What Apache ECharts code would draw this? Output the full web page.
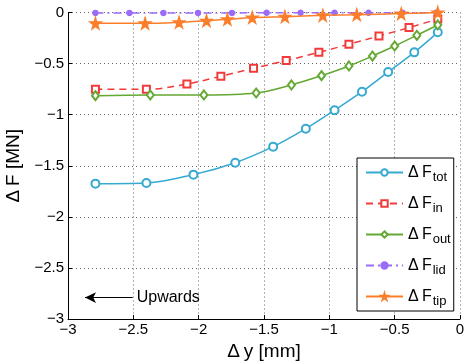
<!DOCTYPE html>
<html>
<head>
<meta charset="utf-8">
<script src="https://cdn.jsdelivr.net/npm/echarts@6/dist/echarts.min.js"></script>
<style>html,body{margin:0;padding:0;background:#fff}#c{width:465px;height:361px}</style>
</head>
<body>
<div id="c"></div>
<script>
// Data (x: Δy [mm], y: ΔF [MN])
var totX = [-2.79, -2.40, -2.04, -1.72, -1.43, -1.18, -0.96, -0.75, -0.55, -0.35, -0.17];
var totY = [-1.675, -1.668, -1.587, -1.47, -1.313, -1.137, -0.957, -0.775, -0.582, -0.39, -0.194];
var inX  = [-2.79, -2.40, -2.09, -1.83, -1.58, -1.33, -1.08, -0.85, -0.62, -0.39, -0.17];
var inY  = [-0.752, -0.752, -0.70, -0.624, -0.546, -0.471, -0.39, -0.311, -0.23, -0.148, -0.064];
var outX = [-2.79, -2.37, -1.96, -1.56, -1.29, -1.06, -0.85, -0.67, -0.50, -0.33, -0.17];
var outY = [-0.814, -0.807, -0.807, -0.788, -0.709, -0.618, -0.523, -0.426, -0.328, -0.223, -0.122];
var lidX = [-2.79, -2.53, -2.27, -2.005, -1.745, -1.48, -1.22, -0.96, -0.70, -0.44, -0.18];
var lidY = [-0.004, -0.004, -0.004, -0.004, -0.004, -0.003, -0.003, -0.003, -0.002, -0.002, -0.001];
var tipX = [-2.79, -2.41, -2.15, -1.94, -1.78, -1.59, -1.34, -1.05, -0.79, -0.45, -0.17];
var tipY = [-0.106, -0.106, -0.096, -0.08, -0.067, -0.05, -0.041, -0.028, -0.021, -0.011, 0.0];
var seriesNames = ['tot', 'in', 'out', 'lid', 'tip'];
var arrowFrom = [-2.505, -2.79];
var arrowTo = [-2.87, -2.79];
var arrowText = 'Upwards';
var xTicks = {min: -3, max: 0, step: 0.5};
var yTicks = {min: -3, max: 0, step: 0.5};

function pairs(xs, ys) { return xs.map(function (x, i) { return [x, ys[i]]; }); }
function fmt(v) { return String(v).replace('-', '\u2212'); }

var font = 'Liberation Sans, Arial, Helvetica, sans-serif';
var chart = echarts.init(document.getElementById('c'), null, {renderer: 'canvas'});

function mk(name, xs, ys, color, lineType, symbol, size, extra) {
  var s = {
    name: name, type: 'line', data: pairs(xs, ys), smooth: 0.35,
    symbol: symbol, symbolSize: size, showAllSymbol: true,
    lineStyle: {color: color, width: 1.5, type: lineType},
    itemStyle: {color: color, borderColor: color, borderWidth: 1.5},
    emphasis: {disabled: true}, z: 3
  };
  if (extra) Object.keys(extra).forEach(function (k) { s[k] = extra[k]; });
  return s;
}

var option = {
  animation: false,
  backgroundColor: '#fff',
  textStyle: {fontFamily: font},
  grid: {left: 68, right: 5, top: 12.5, bottom: 42, containLabel: false, outerBoundsMode: 'none'},
  xAxis: {
    type: 'value', min: xTicks.min, max: xTicks.max, interval: xTicks.step,
    name: '\u0394\u2009y [mm]', nameLocation: 'middle', nameGap: 22,
    nameTextStyle: {fontSize: 19, color: '#000', fontFamily: font},
    axisLine: {show: true, onZero: false, lineStyle: {color: '#000', width: 1}},
    axisTick: {show: true, inside: true, length: 4, lineStyle: {color: '#000'}},
    axisLabel: {fontSize: 15, color: '#000', margin: 3, formatter: fmt, fontFamily: font},
    splitLine: {show: true, lineStyle: {color: '#666', width: 1, type: [1, 3]}}
  },
  yAxis: {
    type: 'value', min: yTicks.min, max: yTicks.max, interval: yTicks.step,
    name: '\u0394\u2009F [MN]', nameLocation: 'middle', nameGap: 43, nameRotate: 90,
    nameTextStyle: {fontSize: 19, color: '#000', fontFamily: font},
    axisLine: {show: true, onZero: false, lineStyle: {color: '#000', width: 1}},
    axisTick: {show: true, inside: true, length: 4, lineStyle: {color: '#000'}},
    axisLabel: {fontSize: 15, color: '#000', margin: 4, formatter: fmt, fontFamily: font},
    splitLine: {show: true, lineStyle: {color: '#666', width: 1, type: [1, 3]}}
  },
  legend: {
    orient: 'vertical', left: 357, top: 158,
    padding: [3, 3, 3, 8], itemGap: 8,
    itemWidth: 37, itemHeight: 8,
    backgroundColor: '#fff', borderColor: '#000', borderWidth: 1,
    data: seriesNames,
    formatter: function (n) { return '{a|\u0394\u2009F}{b|' + n + '}'; },
    textStyle: {
      fontFamily: font, color: '#000',
      rich: {
        a: {fontSize: 16, fontFamily: font, color: '#000', lineHeight: 17},
        b: {fontSize: 13, fontFamily: font, color: '#000', lineHeight: 16, padding: [10, 0, 0, 1]}
      }
    }
  },
  series: [
    mk('tot', totX, totY, '#36a9d1', 'solid', 'emptyCircle', 8),
    mk('in', inX, inY, '#f23a3a', [7, 5], 'emptyRect', 7),
    mk('out', outX, outY, '#62a832', 'solid', 'emptyDiamond', [7, 9]),
    mk('lid', lidX, lidY, '#9a6cf7', [8, 4, 2, 4], 'circle', 5, {z: 2}),
    mk('tip', tipX, tipY, '#fb7e2b', 'solid', 'path://M50,0 L61,35 L98,35 L68,57 L79,91 L50,70 L21,91 L32,57 L2,35 L39,35 Z', 11, {
      markLine: {
        silent: true, symbol: ['none', 'arrow'], symbolSize: [8, 11],
        lineStyle: {color: '#000', width: 1, type: 'solid'},
        label: {show: true, position: 'start', formatter: arrowText, fontSize: 16, color: '#000', fontFamily: font, distance: 4},
        data: [[{coord: arrowFrom}, {coord: arrowTo}]]
      }
    })
  ]
};
chart.setOption(option);
</script>
</body>
</html>
